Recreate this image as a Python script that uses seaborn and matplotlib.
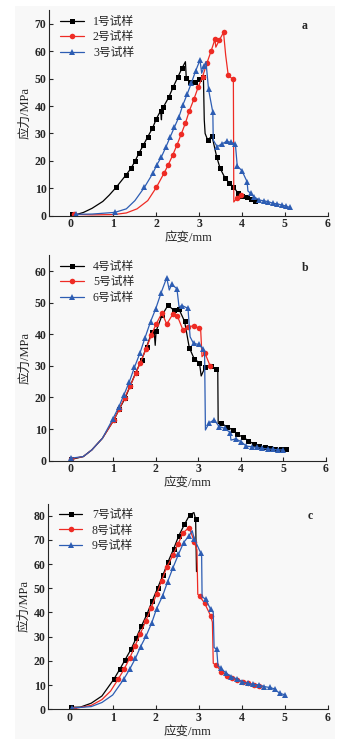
import numpy as np
import pandas as pd
import matplotlib
matplotlib.use("Agg")
import matplotlib.pyplot as plt
from matplotlib.patches import Rectangle
import seaborn as sns

# ---------------- data ----------------
# panel a
s1_x = [0.02, 0.15, 0.3, 0.5, 0.75, 0.9, 1.06, 1.30, 1.41, 1.51, 1.59, 1.70, 1.80, 1.91, 2.00, 2.10, 2.12, 2.13,
        2.16, 2.29, 2.39, 2.50, 2.60, 2.68, 2.70, 2.79, 2.90, 3.00, 3.10, 3.12, 3.14, 3.20, 3.30, 3.41, 3.49,
        3.60, 3.70, 3.80, 3.90, 4.01, 4.11, 4.20, 4.30, 4.42]
s1_y = [0.8, 0.5, 1.2, 2.7, 5.2, 7.5, 10.3, 15.0, 17.3, 20.1, 22.7, 25.8, 28.8, 31.9, 35.3, 38.3, 35.0, 38.8,
        39.5, 43.2, 46.8, 50.5, 53.8, 56.2, 50.1, 48.9, 48.7, 49.9, 50.7, 35.0, 30.0, 27.6, 29.1, 21.5, 17.3,
        13.9, 12.0, 10.6, 8.4, 7.2, 6.7, 6.1, 5.5, 5.2]
s1_skip = [1, 2, 3, 4, 5, 16, 17, 23, 29, 30, 43]

s2_x = [0.07, 0.5, 1.0, 1.3, 1.55, 1.8, 2.00, 2.18, 2.28, 2.38, 2.48, 2.58, 2.68, 2.77, 2.88, 2.98, 3.08, 3.18,
        3.28, 3.37, 3.39, 3.47, 3.57, 3.62, 3.68, 3.78, 3.80, 3.81, 3.88, 3.98]
s2_y = [0.5, 0.3, 0.4, 1.0, 2.5, 5.5, 10.3, 15.5, 18.6, 22.0, 25.7, 29.7, 33.8, 38.2, 42.6, 47.0, 50.7, 55.6,
        60.1, 64.4, 61.5, 64.0, 66.9, 58.6, 51.2, 49.9, 49.5, 5.0, 6.4, 7.6]
s2_skip = [1, 2, 3, 4, 5, 20, 23, 26, 27]

s3_x = [0.12, 0.5, 1.03, 1.3, 1.5, 1.72, 1.92, 2.01, 2.12, 2.22, 2.32, 2.42, 2.53, 2.62, 2.72, 2.82, 2.92, 3.02,
        3.06, 3.12, 3.16, 3.22, 3.32, 3.33, 3.42, 3.53, 3.64, 3.74, 3.83, 3.85, 3.89, 4.00, 4.12, 4.14, 4.20,
        4.28, 4.41, 4.52, 4.62, 4.73, 4.83, 4.93, 5.03, 5.12]
s3_y = [0.5, 0.6, 1.2, 2.5, 5.5, 10.3, 15.5, 18.5, 21.5, 24.9, 28.6, 32.2, 36.1, 40.4, 44.3, 48.5, 52.9, 56.8,
        52.0, 54.6, 56.2, 46.1, 37.7, 27.6, 25.2, 26.2, 27.1, 26.8, 26.2, 25.5, 18.2, 16.4, 12.4, 9.0, 8.2,
        6.9, 5.7, 5.4, 5.1, 4.5, 4.3, 3.9, 3.5, 3.0]
s3_skip = [1, 3, 4, 18, 20, 23, 29, 33]

# panel b
s4_x = [0.02, 0.3, 0.5, 0.75, 1.02, 1.14, 1.28, 1.40, 1.53, 1.67, 1.79, 1.91, 1.97, 1.99, 2.01, 2.15, 2.29, 2.42,
        2.55, 2.68, 2.79, 2.91, 3.03, 3.07, 3.16, 3.29, 3.42, 3.46, 3.47, 3.54, 3.67, 3.81, 3.92, 4.06, 4.18,
        4.30, 4.42, 4.56, 4.68, 4.81, 4.94, 5.06]
s4_y = [0.4, 1.3, 3.4, 7.1, 12.9, 16.2, 19.7, 23.6, 27.8, 31.9, 36.1, 40.7, 40.0, 36.5, 41.0, 46.0, 49.2, 47.7,
        47.9, 44.1, 35.8, 32.1, 31.0, 26.8, 29.5, 30.0, 29.0, 28.5, 11.8, 11.8, 10.8, 9.7, 8.3, 7.4, 6.3,
        5.3, 4.7, 4.2, 3.9, 3.7, 3.6, 3.6]
s4_skip = [1, 2, 3, 12, 13, 23, 27, 28]

s5_x = [0.02, 0.3, 0.5, 0.75, 1.02, 1.15, 1.27, 1.40, 1.53, 1.64, 1.77, 1.90, 2.01, 2.15, 2.26, 2.40, 2.51, 2.64,
        2.77, 2.90, 3.02, 3.06, 3.09, 3.16, 3.28]
s5_y = [0.6, 1.3, 3.4, 7.1, 12.9, 16.5, 19.9, 23.6, 27.6, 31.0, 35.2, 39.8, 43.2, 46.8, 43.2, 46.3, 45.8, 41.4,
        42.4, 42.7, 41.9, 41.0, 32.9, 34.0, 30.0]
s5_skip = [1, 2, 3, 21, 22]

s6_x = [0.02, 0.3, 0.5, 0.75, 0.99, 1.13, 1.25, 1.38, 1.50, 1.63, 1.75, 1.88, 2.00, 2.13, 2.26, 2.32, 2.38, 2.50,
        2.55, 2.62, 2.76, 2.81, 2.89, 3.01, 3.12, 3.15, 3.17, 3.26, 3.38, 3.49, 3.63, 3.75, 3.77, 3.88, 4.01,
        4.13, 4.26, 4.38, 4.50, 4.63, 4.75, 4.88, 5.00]
s6_y = [0.8, 1.3, 3.4, 7.1, 13.1, 16.9, 20.7, 24.9, 29.5, 34.0, 38.9, 44.0, 48.0, 53.2, 57.9, 54.0, 55.8, 54.4,
        48.7, 49.1, 48.2, 39.2, 37.1, 36.8, 35.3, 34.5, 9.7, 12.0, 12.9, 10.8, 10.2, 8.9, 6.5, 6.9, 6.0,
        4.6, 4.4, 4.2, 3.9, 3.7, 3.6, 3.4, 3.4]
s6_skip = [1, 2, 3, 15, 18, 21, 25, 26, 32]

# panel c
s7_x = [0.02, 0.25, 0.5, 0.75, 1.03, 1.17, 1.29, 1.43, 1.55, 1.67, 1.80, 1.92, 2.05, 2.17, 2.29, 2.42, 2.54,
        2.67, 2.79, 2.89, 2.93, 2.95]
s7_y = [0.8, 0.9, 2.5, 5.5, 12.5, 16.7, 20.5, 24.9, 29.6, 34.4, 39.4, 44.8, 50.3, 55.5, 61.0, 66.4, 71.8,
        76.4, 80.3, 81.3, 78.5, 56.9]
s7_skip = [1, 2, 3, 19, 21]

s8_x = [0.1, 0.5, 0.75, 0.95, 1.13, 1.27, 1.40, 1.52, 1.64, 1.77, 1.89, 2.02, 2.14, 2.26, 2.40, 2.52, 2.64, 2.78,
        2.90, 2.96, 2.98, 3.02, 3.14, 3.28, 3.32, 3.34, 3.40, 3.53, 3.66, 3.78, 3.90, 4.03, 4.16, 4.28, 4.40, 4.50]
s8_y = [0.3, 1.6, 4.0, 7.5, 12.5, 16.7, 21.3, 26.2, 31.1, 36.5, 41.7, 47.5, 53.2, 58.8, 63.6, 68.3, 73.0, 75.1,
        69.3, 66.0, 47.5, 46.8, 43.8, 38.6, 36.0, 19.0, 18.3, 15.6, 13.9, 13.1, 12.1, 11.2, 10.7, 10.1, 9.8, 9.5]
s8_skip = [1, 2, 3, 19, 20, 24, 25, 35]

s9_x = [0.05, 0.5, 0.75, 1.0, 1.26, 1.40, 1.53, 1.65, 1.78, 1.91, 2.02, 2.16, 2.28, 2.40, 2.53, 2.65, 2.78, 2.85,
        2.90, 3.05, 3.07, 3.08, 3.16, 3.28, 3.34, 3.36, 3.42, 3.45, 3.52, 3.64, 3.76, 3.89, 4.02, 4.14, 4.27,
        4.40, 4.52, 4.65, 4.78, 4.82, 4.89, 5.02]
s9_y = [0.5, 1.1, 2.8, 5.9, 12.5, 16.7, 21.1, 25.9, 30.4, 35.8, 41.5, 46.8, 52.8, 58.4, 64.0, 68.9, 71.8, 73.8,
        70.4, 64.5, 63.0, 46.5, 45.5, 41.3, 40.0, 25.5, 24.8, 18.0, 16.9, 14.9, 13.5, 12.5, 11.4, 10.7, 10.3,
        10.1, 9.4, 9.0, 8.4, 7.5, 6.6, 5.9]
s9_skip = [1, 2, 3, 17, 20, 21, 24, 25, 27, 39]

labels = ["1号试样", "2号试样", "3号试样", "4号试样", "5号试样", "6号试样", "7号试样", "8号试样", "9号试样"]
panel_tags = ["a", "b", "c"]
ylims = [75, 65, 85]
xlabel = "应变/mm"
ylabel = "应力/MPa"

# ---------------- style ----------------
sns.set_theme(style="ticks")
fams = ["Liberation Serif", "Noto Sans CJK SC", "DejaVu Sans"]
plt.rcParams["font.family"] = fams
plt.rcParams["xtick.direction"] = "in"
plt.rcParams["ytick.direction"] = "in"
plt.rcParams["xtick.major.size"] = 3
plt.rcParams["ytick.major.size"] = 3
plt.rcParams["axes.linewidth"] = 0.8

colors = ["#000000", "#ee2b24", "#2d5db3"]
markers = ["s", "o", "^"]
msizes = [3.6, 4.0, 4.2]

fig = plt.figure(figsize=(3.47, 7.43), dpi=100)
fig.patch.set_facecolor("white")
fig.patches.append(Rectangle((15 / 347, 0.005), 320 / 347, 0.987, transform=fig.transFigure,
                             facecolor="#f8f8f8", edgecolor="none", zorder=-10))

positions = [
    [0.142, 0.7097, 0.802, 0.2766],
    [0.142, 0.3800, 0.797, 0.2764],
    [0.139, 0.0454, 0.805, 0.2768],
]
tag_pos = [(0.918, 0.923), (0.925, 0.94), (0.939, 0.94)]

series = [
    [(s1_x, s1_y, s1_skip), (s2_x, s2_y, s2_skip), (s3_x, s3_y, s3_skip)],
    [(s4_x, s4_y, s4_skip), (s5_x, s5_y, s5_skip), (s6_x, s6_y, s6_skip)],
    [(s7_x, s7_y, s7_skip), (s8_x, s8_y, s8_skip), (s9_x, s9_y, s9_skip)],
]

for p in range(3):
    ax = fig.add_axes(positions[p])
    ax.set_facecolor("#f8f8f8")
    for k in range(3):
        xs, ys, skip = series[p][k]
        df = pd.DataFrame({"x": xs, "y": ys})
        mk = [i for i in range(len(xs)) if i not in skip]
        sns.lineplot(data=df, x="x", y="y", ax=ax, sort=False, estimator=None,
                     color=colors[k], marker=markers[k], markersize=msizes[k],
                     markeredgewidth=0, markevery=mk, linewidth=0.9,
                     label=labels[3 * p + k])
    ax.set_xlim(-0.5, 6)
    ax.set_ylim(0, ylims[p])
    ax.set_xticks([0, 1, 2, 3, 4, 5, 6])
    ax.set_yticks(np.arange(0, ylims[p], 10))
    for side in ["top", "right"]:
        ax.spines[side].set_visible(False)
    ax.tick_params(labelsize=8.5, width=0.8, pad=2)
    for t in ax.get_xticklabels() + ax.get_yticklabels():
        t.set_fontweight("bold")
    ax.set_xlabel(xlabel, fontsize=9, labelpad=1, family=fams, fontweight="medium")
    ax.set_ylabel(ylabel, fontsize=9, labelpad=2, family=fams, fontweight="medium")
    ax.text(tag_pos[p][0], tag_pos[p][1], panel_tags[p], transform=ax.transAxes,
            fontsize=8.5, fontweight="bold", ha="center", va="center")
    leg = ax.legend(loc="upper left", bbox_to_anchor=(0.0, 1.025), frameon=False,
                    handlelength=2.0, handletextpad=0.8, labelspacing=0.3,
                    prop={"family": fams, "size": 8.5, "weight": "medium"})

fig.savefig("out.png", dpi=100, facecolor=fig.get_facecolor())
